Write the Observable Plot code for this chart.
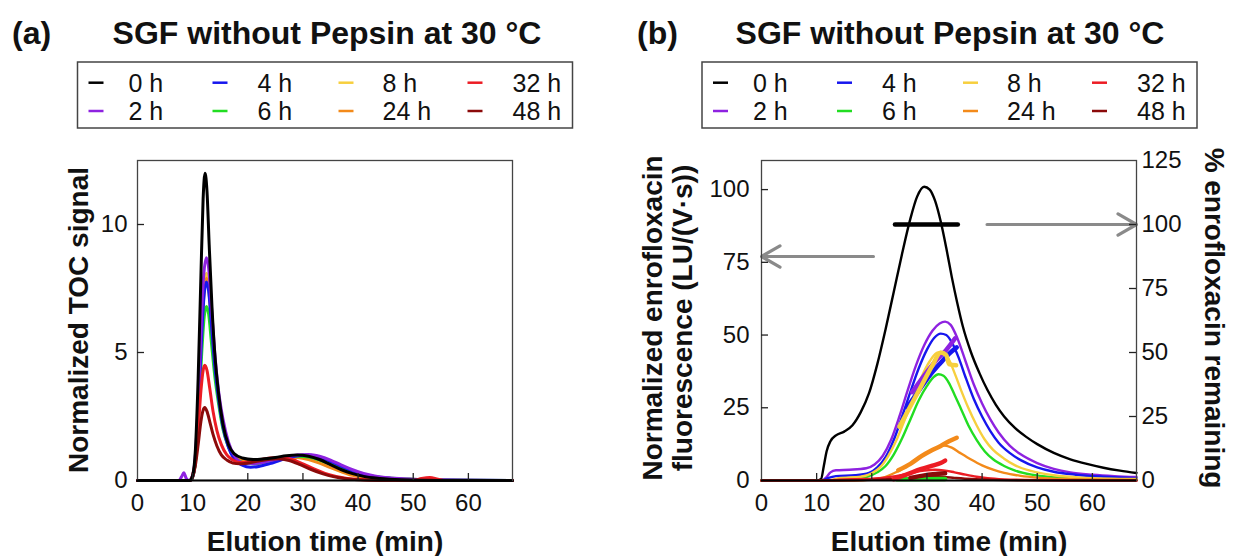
<!DOCTYPE html>
<html><head><meta charset="utf-8">
<script src="https://cdn.jsdelivr.net/npm/d3@7"></script>
<script src="https://cdn.jsdelivr.net/npm/@observablehq/plot@0.6"></script>
<style>
body{margin:0;background:#fff}
#root{position:relative;width:1234px;height:556px;overflow:hidden;background:#fff;font-family:"Liberation Sans",Arial,Helvetica,sans-serif}
#pa,#pb{position:absolute;top:0}
#overlay{position:absolute;left:0;top:0;pointer-events:none}
</style></head><body>
<div id="root"><div id="pa" style="left:0px"></div><div id="pb" style="left:617px"></div></div>
<script>
// ---------- series ----------
const seriesNames = ["0 h","2 h","4 h","6 h","8 h","24 h","32 h","48 h"];
const seriesColors = ["#000000","#8e22e0","#1616ee","#22dd22","#f7cf3e","#f38a1a","#ec1c24","#8b0a0a"];
// drawing order of panel (a) curves (later = on top)
const drawOrderA = ["8 h","24 h","6 h","4 h","2 h","32 h","48 h","0 h"];
const titleText = "SGF without Pepsin at 30 °C";
const xLabel = "Elution time (min)";
const yLabelA = "Normalized TOC signal";
const yLabelB1 = "Normalized enrofloxacin";
const yLabelB2 = "fluorescence (LU/(V·s))";
const yLabelBRight = "% enrofloxacin remaining";

// ---------- axes ----------
const xTicks = [0,10,20,30,40,50,60];
const yTicksA = [0,5,10];
const yTicksB = [0,25,50,75,100];
const yTicksBRight = [0,25,50,75,100,125];
const xMax = 68, yMaxA = 12.5, yMaxB = 110, yMaxBRight = 125;

// ---------- panel (a): normalized TOC signal [time, value] ----------
const toc0h = [[0,0],[9.5,0],[10,0.2],[10.5,1.2],[11,4],[11.5,8],[11.9,11],[12.25,12],[12.6,11.3],[13,9.2],[13.5,6.8],[14,5],[14.7,3.4],[15.5,2.2],[16.5,1.4],[17.5,1.05],[19,0.88],[21,0.82],[23,0.85],[25,0.9],[27,0.97],[29,1.0],[31,0.95],[33,0.82],[35,0.62],[37,0.42],[39,0.27],[41,0.16],[44,0.08],[48,0.03],[55,0],[68,0]];
const toc2h = [[0,0],[7.5,0],[8,0.15],[8.4,0.3],[8.8,0.1],[9.3,0],[10,0.2],[10.5,1],[11,3],[11.5,5.8],[12,8],[12.5,8.7],[12.9,8.3],[13.4,6.8],[14,5],[14.7,3.5],[15.5,2.4],[16.5,1.5],[17.5,1.0],[19,0.7],[21,0.66],[23,0.72],[25,0.82],[27,0.92],[29,1.0],[31,1.02],[33,0.95],[35,0.8],[37,0.6],[39,0.42],[41,0.28],[43,0.18],[46,0.1],[50,0.05],[55,0.02],[60,0.01],[68,0]];
const toc4h = [[0,0],[9.6,0],[10.1,0.2],[10.6,1],[11.1,3],[11.6,5.5],[12.1,7.3],[12.5,7.75],[12.9,7.4],[13.4,6.1],[14,4.5],[14.7,3.2],[15.5,2.1],[16.5,1.3],[17.5,0.85],[19,0.6],[20.5,0.52],[22,0.55],[24,0.66],[26,0.8],[28,0.92],[30.5,1.0],[32.5,0.95],[34.5,0.8],[36.5,0.6],[38.5,0.42],[40.5,0.27],[43,0.15],[46,0.08],[50,0.03],[68,0]];
const toc6h = [[0,0],[9.6,0],[10.1,0.2],[10.6,0.9],[11.1,2.6],[11.6,4.8],[12.1,6.4],[12.5,6.8],[12.9,6.5],[13.4,5.4],[14,4.1],[14.7,3],[15.5,2],[16.5,1.3],[17.5,0.9],[19,0.7],[21,0.65],[23,0.7],[25,0.8],[27,0.9],[29,0.95],[31,0.92],[33,0.8],[35,0.64],[37,0.47],[39,0.33],[41,0.22],[44,0.13],[47,0.08],[50,0.05],[54,0.02],[68,0]];
const toc8h = [[0,0],[9.6,0],[10.1,0.2],[10.6,1],[11.1,3.1],[11.6,5.8],[12.1,7.6],[12.5,8.1],[12.9,7.7],[13.4,6.4],[14,4.7],[14.7,3.3],[15.5,2.2],[16.5,1.4],[17.5,0.95],[19,0.75],[21,0.7],[23,0.75],[25,0.85],[27,0.93],[29,0.97],[31,0.93],[33,0.8],[35,0.62],[37,0.45],[39,0.3],[41,0.19],[44,0.1],[48,0.04],[68,0]];
const toc24h = [[0,0],[9.6,0],[10.1,0.2],[10.6,1],[11.1,3],[11.6,5.6],[12.1,7.4],[12.5,7.9],[12.9,7.5],[13.4,6.2],[14,4.5],[14.7,3.2],[15.5,2.1],[16.5,1.35],[17.5,0.95],[19,0.78],[21,0.75],[23,0.8],[25,0.88],[27,0.92],[29,0.9],[31,0.82],[33,0.68],[35,0.5],[37,0.34],[39,0.2],[41,0.11],[44,0.05],[48,0.02],[68,0]];
const toc32h = [[0,0],[9.5,0],[10,0.2],[10.5,0.8],[11,2],[11.5,3.5],[11.9,4.3],[12.2,4.5],[12.6,4.3],[13.1,3.6],[13.7,2.7],[14.4,1.95],[15.2,1.4],[16.2,1.0],[17.3,0.8],[18.5,0.7],[20,0.72],[22,0.8],[24,0.88],[26,0.9],[28,0.82],[30,0.65],[32,0.45],[34,0.28],[36,0.16],[38,0.08],[41,0.03],[45,0],[50,0],[51.5,0.08],[53,0.12],[54.5,0.05],[56,0],[68,0]];
const toc48h = [[0,0],[9.5,0],[10,0.15],[10.5,0.6],[11,1.4],[11.5,2.3],[11.9,2.75],[12.2,2.85],[12.6,2.7],[13.1,2.3],[13.7,1.8],[14.4,1.35],[15.2,1.0],[16.2,0.8],[17.3,0.68],[18.5,0.65],[20,0.68],[22,0.76],[24,0.83],[25.5,0.85],[27.5,0.78],[29.5,0.62],[31.5,0.43],[33.5,0.27],[35.5,0.15],[37.5,0.08],[40,0.03],[44,0],[68,0]];

// ---------- panel (b): normalized fluorescence [time, value] ----------
const flu0h = [[0,0],[10,0],[10.8,0.5],[11.3,5],[11.8,10],[12.5,13.5],[13.5,15.5],[15,16.8],[16.5,19],[18,23.5],[19.5,30],[21,40],[22.5,52],[24,65],[25.5,78],[27,90],[28.2,97.5],[29.5,101],[30.5,100],[31.5,96],[32.5,89],[33.5,80],[34.5,70],[35.5,61],[36.5,53],[38,44],[39.5,37],[41,31],[42.5,26],[44,22],[46,18],[48,15],[50,12.5],[53,9.5],[56,7.3],[59,5.7],[62,4.4],[65,3.4],[68,2.6]];
const flu2h = [[0,0],[11,0],[11.7,1],[12.5,2.8],[13.5,3.5],[16,3.7],[19,4.2],[20.5,5.5],[22,8.5],[23.5,14],[25,22],[26.5,31],[28,39.5],[29.5,46.5],[31,51.5],[32.3,54],[33.3,54.6],[34.3,53.5],[35.5,49],[37,41],[38.5,33],[40,26.5],[41.5,21],[43,16.5],[45,12],[47,9],[50,6],[53,4],[56,2.8],[60,2],[64,1.5],[68,1.2]];
const flu4h = [[0,0],[11,0],[12,0.8],[13.5,1.5],[17,1.8],[19.5,2.6],[21,4.5],[22.5,8],[24,14],[25.5,22],[27,30.5],[28.5,38.5],[30,45],[31.3,49],[32.5,50.5],[33.5,50],[34.5,47.5],[35.8,42],[37,35.5],[38.5,28],[40,22],[41.5,17],[43,13],[45,9.5],[47,7],[50,4.5],[53,3],[57,2],[62,1.3],[68,0.8]];
const flu6h = [[0,0],[13,0],[16,0.5],[19,1.2],[21,2.8],[22.5,5],[24,9],[25.5,14.5],[27,21],[28.5,27.5],[30,32.5],[31.2,35.5],[32.1,36.5],[33,36],[34,33.5],[35,29.5],[36.2,24.5],[37.5,19],[39,14],[40.5,10],[42,7.3],[44,5],[46,3.4],[49,2],[53,1.1],[58,0.6],[68,0.3]];
const flu8h = [[0,0],[12,0],[14,0.8],[18,1.3],[20,2.5],[21.5,4.5],[23,8.5],[24.5,14],[26,21],[27.5,28.5],[29,35.5],[30.5,41],[32,44],[33,43.8],[34,41.5],[35,37],[36.2,31],[37.5,25],[39,19],[40.5,14],[42,10.5],[44,7.5],[46,5.2],[49,3.2],[53,1.8],[58,1],[68,0.5]];
const flu24h = [[0,0],[17,0],[20,0.4],[22,1],[24,2.5],[26,4.5],[28,7],[30,9.5],[32,11.5],[33.2,12],[34.5,11.3],[36,9.5],[38,7.2],[40,5.2],[42,3.7],[44,2.6],[47,1.6],[50,1],[55,0.5],[62,0.3],[68,0.2]];
const flu32h = [[0,0],[12,0],[14,0.3],[20,0.6],[24,1.4],[27,2.5],[29.5,3.4],[31.5,3.7],[33,3.5],[35,2.8],[37,2],[39,1.3],[41,0.8],[44,0.4],[48,0.2],[55,0.1],[68,0]];
const flu48h = [[0,0],[14,0],[20,0.2],[25,0.6],[28,1],[31,1.3],[33,1.2],[35,0.9],[38,0.5],[42,0.2],[48,0.05],[68,0]];

// ---------- panel (b): % enrofloxacin remaining (right axis) [time, percent] ----------
const pct0h = [[24.2,100],[35.6,100]];
const pct2h = [[27.3,34.5],[29.5,41],[31.5,46.5],[33.5,51],[35.1,55.5]];
const pct4h = [[26.4,28.6],[28.5,35],[30.5,41],[32.5,46],[34,49.5],[35.4,52]];
const pct6h = [[24.5,0.5],[33.3,0.6]];
const pct8h = [[25,21],[27,29],[29,37],[31,45],[32.5,50],[33.5,49],[34,45.5],[35.3,45]];
const pct24h = [[24.8,4],[27,6.5],[29,9.5],[30.8,11.7],[32.5,13.5],[34,15.3],[35.4,16.7]];
const pct32h = [[24,0.5],[26.5,2.5],[29,4.5],[31,5.8],[32.5,6.8],[33.3,7.8]];
const pct48h = [[27,1],[29.5,2],[33.3,2.8]];

// gray arrows: left one points to left axis, right one to right axis (value in that axis' units)
const arrowLeft = {from: 20.3, to: 0, value: 77};
const arrowRight = {from: 40.9, to: 68, value: 100};

// ---------- build tables ----------
const tocSets = [toc0h,toc2h,toc4h,toc6h,toc8h,toc24h,toc32h,toc48h];
const fluSets = [flu0h,flu2h,flu4h,flu6h,flu8h,flu24h,flu32h,flu48h];
const pctSets = [pct0h,pct2h,pct4h,pct6h,pct8h,pct24h,pct32h,pct48h];
const toRows = (sets, order) => (order || seriesNames).flatMap(name => {
  const i = seriesNames.indexOf(name);
  return sets[i].map(([t, v]) => ({series: name, t, v}));
});
const tocRows = toRows(tocSets, drawOrderA), fluRows = toRows(fluSets), pctRows = toRows(pctSets);
const toLeft = p => p * yMaxB / yMaxBRight;

const W = 617, H = 556, mTop = 160, mBottom = 76;
const innerH = H - mTop - mBottom;
const font = "Liberation Sans, Arial, Helvetica, sans-serif";
const color = {domain: seriesNames, range: seriesColors};
const tickLen = 7;

// ---------- panel (a) ----------
const mA = {l: 137, r: 105};
const innerWA = W - mA.l - mA.r;
const chartA = Plot.plot({
  width: W, height: H, marginLeft: mA.l, marginRight: mA.r, marginTop: mTop, marginBottom: mBottom,
  style: {fontFamily: font, fontSize: "24px", color: "#111", background: "white"},
  x: {domain: [0, xMax]}, y: {domain: [0, yMaxA]}, color,
  marks: [
    Plot.line(tocRows, {x: "t", y: "v", z: "series", stroke: "series", strokeWidth: 3, curve: "monotone-x"}),
    Plot.frame({stroke: "#444", strokeWidth: 1.3}),
    Plot.ruleY([0], {stroke: "#000", strokeWidth: 2}),
    Plot.tickX(xTicks.filter(d => d > 0), {x: d => d, insetTop: innerH - tickLen, stroke: "#222", strokeWidth: 1.3}),
    Plot.tickY(yTicksA.filter(d => d > 0), {y: d => d, insetRight: innerWA - tickLen, stroke: "#222", strokeWidth: 1.3}),
    Plot.axisX(xTicks, {tickSize: 0, tickPadding: 13, label: null, fontSize: 24}),
    Plot.axisY(yTicksA, {tickSize: 0, tickPadding: 10, label: null, fontSize: 24})
  ]
});
document.getElementById("pa").append(chartA);

// ---------- panel (b) ----------
const mB = {l: 144, r: 98};
const innerWB = W - mB.l - mB.r;
const arrowRows = [
  {x1: arrowLeft.from, x2: arrowLeft.to, y: arrowLeft.value},
  {x1: arrowRight.from, x2: arrowRight.to, y: toLeft(arrowRight.value)}
];
const chartB = Plot.plot({
  width: W, height: H, marginLeft: mB.l, marginRight: mB.r, marginTop: mTop, marginBottom: mBottom,
  style: {fontFamily: font, fontSize: "24px", color: "#111", background: "white"},
  x: {domain: [0, xMax]}, y: {domain: [0, yMaxB]}, color,
  marks: [
    Plot.line(fluRows, {x: "t", y: "v", z: "series", stroke: "series", strokeWidth: 2.4, curve: "monotone-x"}),
    Plot.line(pctRows.filter(d => d.series !== "0 h"), {x: "t", y: d => toLeft(d.v), z: "series", stroke: "series", strokeWidth: 4.5, curve: "monotone-x"}),
    Plot.line(pctRows.filter(d => d.series === "0 h"), {x: "t", y: d => toLeft(d.v), stroke: "#000", strokeWidth: 4.5}),
    Plot.arrow(arrowRows, {x1: "x1", x2: "x2", y1: "y", y2: "y", stroke: "#8a8a8a", strokeWidth: 3.2, headLength: 10}),
    Plot.frame({stroke: "#444", strokeWidth: 1.3}),
    Plot.ruleY([0], {stroke: "#000", strokeWidth: 2}),
    Plot.tickX(xTicks.filter(d => d > 0), {x: d => d, insetTop: innerH - tickLen, stroke: "#222", strokeWidth: 1.3}),
    Plot.tickY(yTicksB.filter(d => d > 0), {y: d => d, insetRight: innerWB - tickLen, stroke: "#222", strokeWidth: 1.3}),
    Plot.tickY(yTicksBRight.filter(d => d > 0 && d < yMaxBRight), {y: d => toLeft(d), insetLeft: innerWB - tickLen, stroke: "#222", strokeWidth: 1.3}),
    Plot.axisX(xTicks, {tickSize: 0, tickPadding: 13, label: null, fontSize: 24}),
    Plot.axisY(yTicksB, {tickSize: 0, tickPadding: 12, label: null, fontSize: 24}),
    Plot.axisY(yTicksBRight.map(toLeft), {anchor: "right", tickSize: 0, tickPadding: 5, label: null, fontSize: 24, tickFormat: d => String(Math.round(d * yMaxBRight / yMaxB))})
  ]
});
document.getElementById("pb").append(chartB);

// ---------- titles, legends, axis titles (overlay) ----------
const svg = d3.select("#root").append("svg").attr("id", "overlay")
  .attr("width", 1234).attr("height", 556).style("font-family", font);
const panels = [
  {tag: "(a)", tagX: 12, titleX: 327, legendX: 77.5, xTitleX: 325},
  {tag: "(b)", tagX: 637, titleX: 950, legendX: 702, xTitleX: 949}
];
const dashX = [11, 135, 261, 390], textX = [51, 180, 305, 435], rowY = [29.7, 58];
panels.forEach(p => {
  svg.append("text").attr("x", p.tagX).attr("y", 44).attr("font-size", 32).attr("font-weight", "bold").attr("fill", "#111").text(p.tag);
  svg.append("text").attr("x", p.titleX).attr("y", 44).attr("text-anchor", "middle").attr("font-size", 32).attr("font-weight", "bold").attr("fill", "#111").text(titleText);
  const g = svg.append("g").attr("transform", `translate(${p.legendX},62)`);
  g.append("rect").attr("width", 495).attr("height", 66).attr("fill", "white").attr("stroke", "#444").attr("stroke-width", 1.5);
  seriesNames.forEach((name, k) => {
    const col = Math.floor(k / 2), row = k % 2;
    g.append("line").attr("x1", dashX[col]).attr("x2", dashX[col] + 15)
      .attr("y1", rowY[row] - 9).attr("y2", rowY[row] - 9)
      .attr("stroke", seriesColors[k]).attr("stroke-width", 2.5);
    g.append("text").attr("x", textX[col]).attr("y", rowY[row]).attr("font-size", 25).attr("fill", "#111").text(name);
  });
  svg.append("text").attr("x", p.xTitleX).attr("y", 551).attr("text-anchor", "middle").attr("font-size", 28).attr("font-weight", "bold").attr("fill", "#111").text(xLabel);
});
const rot = (x, y, a, txt) => svg.append("text").attr("transform", `translate(${x},${y}) rotate(${a})`)
  .attr("text-anchor", "middle").attr("font-size", 28).attr("font-weight", "bold").attr("fill", "#111").text(txt);
rot(88, 320, -90, yLabelA);
rot(662, 318, -90, yLabelB1);
rot(692, 318, -90, yLabelB2);
rot(1205, 318, 90, yLabelBRight);
</script>
</body></html>
